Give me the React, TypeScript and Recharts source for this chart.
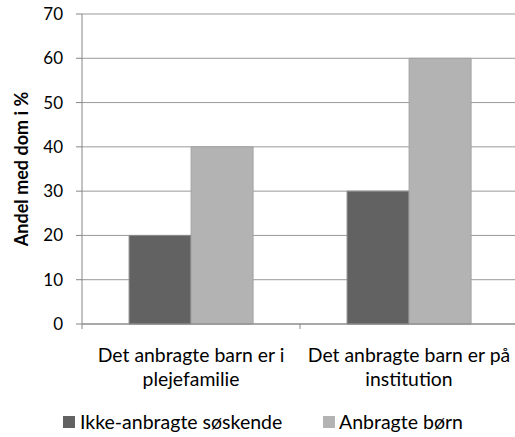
import { Bar, BarChart, CartesianGrid, Label, Legend, XAxis, YAxis } from 'recharts'

const categories = ['Det anbragte barn er i plejefamilie', 'Det anbragte barn er på institution']
const categoryLines = [
  ['Det anbragte barn er i', 'plejefamilie'],
  ['Det anbragte barn er på', 'institution']
]
const seriesNames = ['Ikke-anbragte søskende', 'Anbragte børn']
const ikkeAnbragte = [20, 30]
const anbragte = [40, 60]
const yTicks = [0, 10, 20, 30, 40, 50, 60, 70]

const data = categories.map((name, i) => ({
  name,
  ikke: ikkeAnbragte[i],
  anbragte: anbragte[i]
}))

const FONT = 'Lato, "Open Sans", sans-serif'
const DARK = '#626262'
const LIGHT = '#b3b3b3'
const AXIS = '#868686'

const CategoryTick = (props: any) => {
  const { x, y, payload, index } = props
  const lines = categoryLines[index] || [String(payload.value)]
  const half = payload.offset || 0
  return (
    <g>
      <line x1={x - half} y1={y - 8} x2={x - half} y2={y - 3} stroke={AXIS} />
      {index === categories.length - 1 && (
        <line x1={x + half} y1={y - 8} x2={x + half} y2={y - 3} stroke={AXIS} />
      )}
      <text x={x} y={y} textAnchor='middle' fill='#000' fontSize={19.4} fontFamily={FONT}>
        {lines.map((l: string, i: number) => (
          <tspan key={i} x={x} dy={i === 0 ? 30 : 24}>
            {l}
          </tspan>
        ))}
      </text>
    </g>
  )
}

const LegendContent = () => (
  <div style={{ display: 'flex', height: 20, fontFamily: FONT, fontSize: 19.5, lineHeight: '20px', color: '#000', whiteSpace: 'nowrap' }}>
    <span style={{ display: 'flex', alignItems: 'center', marginLeft: 63, width: 260 }}>
      <span style={{ width: 12, height: 12, background: DARK, marginRight: 5 }} />
      {seriesNames[0]}
    </span>
    <span style={{ display: 'flex', alignItems: 'center' }}>
      <span style={{ width: 12, height: 12, background: LIGHT, marginRight: 4 }} />
      {seriesNames[1]}
    </span>
  </div>
)

export default function App() {
  return (
    <div style={{ position: 'absolute', left: 0, top: 0, width: 515, height: 437, overflow: 'hidden', background: '#fff' }}>
      <BarChart
        width={521}
        height={437}
        data={data}
        barGap={0}
        barCategoryGap='21.6%'
        margin={{ top: 14, right: 3, left: 0, bottom: 0 }}
      >
        <CartesianGrid vertical={false} stroke='#999999' />
        <XAxis
          dataKey='name'
          height={93}
          axisLine={{ stroke: AXIS }}
          tickLine={false}
          interval={0}
          tick={<CategoryTick />}
        />
        <YAxis
          width={82}
          domain={[0, 70]}
          ticks={yTicks}
          interval={0}
          axisLine={{ stroke: AXIS }}
          tickLine={{ stroke: AXIS }}
          tickSize={6}
          tickMargin={13}
          tick={{ fill: '#000', fontSize: 17, fontFamily: FONT }}
        >
          <Label
            value='Andel med dom i %'
            angle={-90}
            position='insideLeft'
            offset={22}
            style={{ textAnchor: 'middle', fontWeight: 'bold', fontSize: 18, fontFamily: FONT, fill: '#000' }}
          />
        </YAxis>
        <Legend
          verticalAlign='bottom'
          content={<LegendContent />}
          wrapperStyle={{ left: 0, top: 412, bottom: 'auto', width: 515 }}
        />
        <Bar dataKey='ikke' name={seriesNames[0]} fill={DARK} stroke='#8a8a8a' strokeWidth={1} isAnimationActive={false} />
        <Bar dataKey='anbragte' name={seriesNames[1]} fill={LIGHT} stroke='#a3a3a3' strokeWidth={1} isAnimationActive={false} />
      </BarChart>
    </div>
  )
}
